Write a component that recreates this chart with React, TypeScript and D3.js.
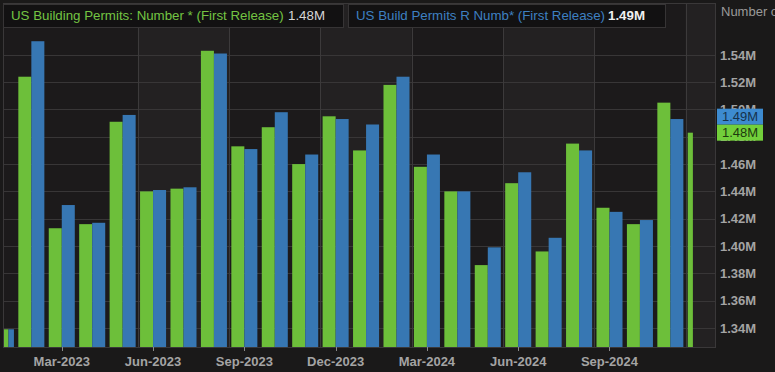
import React, { useRef, useEffect } from 'react';
import * as d3 from 'd3';

// Monthly periods on the x axis
const months = [
  '2023-01', '2023-02', '2023-03', '2023-04', '2023-05', '2023-06',
  '2023-07', '2023-08', '2023-09', '2023-10', '2023-11', '2023-12',
  '2024-01', '2024-02', '2024-03', '2024-04', '2024-05', '2024-06',
  '2024-07', '2024-08', '2024-09', '2024-10', '2024-11', '2024-12',
];

// US Building Permits: Number * (First Release), millions
const permitsFirst = [
  1.339, 1.524, 1.413, 1.416, 1.491, 1.440, 1.442, 1.543, 1.473, 1.487, 1.460, 1.495,
  1.470, 1.518, 1.458, 1.440, 1.386, 1.446, 1.396, 1.475, 1.428, 1.416, 1.505, 1.483,
];

// US Build Permits R Numb* (First Release), millions
const permitsRevised: (number | null)[] = [
  1.339, 1.550, 1.430, 1.417, 1.496, 1.441, 1.443, 1.541, 1.471, 1.498, 1.467, 1.493,
  1.489, 1.524, 1.467, 1.440, 1.399, 1.454, 1.406, 1.470, 1.425, 1.419, 1.493, null,
];

const yTicks = [1.34, 1.36, 1.38, 1.40, 1.42, 1.44, 1.46, 1.48, 1.50, 1.52, 1.54];
const xTickMonths = ['2023-03', '2023-06', '2023-09', '2023-12', '2024-03', '2024-06', '2024-09'];
const quarterStarts = ['2023-06', '2023-09', '2023-12', '2024-03', '2024-06', '2024-09', '2024-12'];
const shadedQuarters = [['2023-06', '2023-09'], ['2023-12', '2024-03'], ['2024-06', '2024-09'], ['2024-12', null]];

const seriesNames = ['US Building Permits: Number * (First Release)', 'US Build Permits R Numb* (First Release)'];

const GREEN = '#6dbf3a';
const BLUE = '#3777b3';
const FONT = '"Liberation Sans", Arial, sans-serif';

const monthLabel = (m: string) => {
  const d = d3.timeParse('%Y-%m')(m)!;
  return d3.timeFormat('%b-%Y')(d);
};

const App: React.FC = () => {
  const svgRef = useRef<SVGSVGElement | null>(null);

  useEffect(() => {
    document.body.style.margin = '0';
    if (!svgRef.current) return;

    const width = 775;
    const height = 372;
    const plot = { left: 3, right: 716, top: 3, bottom: 347 };

    d3.select(svgRef.current).selectAll('*').remove();

    const svg = d3.select(svgRef.current)
      .attr('width', width)
      .attr('height', height)
      .style('display', 'block')
      .style('font-family', FONT);

    svg.append('rect')
      .attr('width', width)
      .attr('height', height)
      .attr('fill', '#1a1919');

    // Scales
    const xScale = d3.scaleBand<string>()
      .domain(months)
      .range([-14.3, plot.right])
      .padding(0);

    const yScale = d3.scaleLinear()
      .domain([1.326, 1.578])
      .range([plot.bottom, plot.top]);

    // Plot background
    svg.append('rect')
      .attr('x', plot.left)
      .attr('y', plot.top)
      .attr('width', plot.right - plot.left)
      .attr('height', plot.bottom - plot.top)
      .attr('fill', '#1c1a1b');

    svg.append('clipPath')
      .attr('id', 'plot-clip')
      .append('rect')
      .attr('x', plot.left)
      .attr('y', plot.top)
      .attr('width', plot.right - plot.left)
      .attr('height', plot.bottom - plot.top);

    const g = svg.append('g').attr('clip-path', 'url(#plot-clip)');

    // Alternating quarter shading
    g.selectAll('.band')
      .data(shadedQuarters)
      .enter()
      .append('rect')
      .attr('x', d => xScale(d[0] as string) || 0)
      .attr('y', plot.top)
      .attr('width', d => (d[1] ? xScale(d[1]) || 0 : plot.right) - (xScale(d[0] as string) || 0))
      .attr('height', plot.bottom - plot.top)
      .attr('fill', '#232122');

    // Grid lines
    g.selectAll('.hgrid')
      .data(yTicks)
      .enter()
      .append('line')
      .attr('x1', plot.left)
      .attr('x2', plot.right)
      .attr('y1', d => Math.round(yScale(d)) + 0.5)
      .attr('y2', d => Math.round(yScale(d)) + 0.5)
      .attr('stroke', '#383637')
      .attr('stroke-width', 1);

    g.selectAll('.vgrid')
      .data(quarterStarts)
      .enter()
      .append('line')
      .attr('x1', d => Math.round(xScale(d) || 0) + 0.5)
      .attr('x2', d => Math.round(xScale(d) || 0) + 0.5)
      .attr('y1', plot.top)
      .attr('y2', plot.bottom)
      .attr('stroke', '#3c3a3b')
      .attr('stroke-width', 1);

    // Bars: each month band is split into two bars, squeezed where the band meets the data window edges
    const innerPad = 2.2;
    const windowEnd = plot.right - 18;
    const groups = months.map((m, i) => {
      const b0 = (xScale(m) || 0) + innerPad;
      const b1 = (xScale(m) || 0) + xScale.bandwidth() - innerPad;
      const x0 = Math.max(b0, plot.left);
      const x1 = Math.min(b1, windowEnd);
      const w = (x1 - x0) / 2;
      return { m, x0, w, first: permitsFirst[i], revised: permitsRevised[i] };
    });

    g.selectAll('.bar-first')
      .data(groups)
      .enter()
      .append('rect')
      .attr('x', d => d.x0)
      .attr('y', d => yScale(d.first))
      .attr('width', d => d.w)
      .attr('height', d => plot.bottom - yScale(d.first))
      .attr('fill', GREEN);

    g.selectAll('.bar-revised')
      .data(groups.filter(d => d.revised != null))
      .enter()
      .append('rect')
      .attr('x', d => d.x0 + d.w)
      .attr('y', d => yScale(d.revised as number))
      .attr('width', d => d.w)
      .attr('height', d => plot.bottom - yScale(d.revised as number))
      .attr('fill', BLUE);

    // Plot frame
    svg.append('rect')
      .attr('x', plot.left + 0.5)
      .attr('y', plot.top + 0.5)
      .attr('width', plot.right - plot.left - 1)
      .attr('height', plot.bottom - plot.top)
      .attr('fill', 'none')
      .attr('stroke', '#3a3839');

    // X axis ticks and labels
    const xTicks = svg.append('g');
    xTickMonths.forEach(m => {
      const cx = (xScale(m) || 0) + xScale.bandwidth() / 2;
      xTicks.append('line')
        .attr('x1', Math.round(cx) + 0.5)
        .attr('x2', Math.round(cx) + 0.5)
        .attr('y1', plot.bottom)
        .attr('y2', plot.bottom + 4)
        .attr('stroke', '#8a8a8a');
      xTicks.append('text')
        .attr('x', cx)
        .attr('y', 366)
        .attr('text-anchor', 'middle')
        .attr('fill', '#a4a4a4')
        .attr('font-size', '13px')
        .attr('font-weight', 'bold')
        .text(monthLabel(m));
    });

    // Right Y axis labels
    svg.append('g')
      .selectAll('text')
      .data(yTicks)
      .enter()
      .append('text')
      .attr('x', 720)
      .attr('y', d => yScale(d))
      .attr('dy', '0.36em')
      .attr('fill', '#a4a4a4')
      .attr('font-size', '13px')
      .attr('font-weight', 'bold')
      .text(d => `${d.toFixed(2)}M`);

    svg.append('text')
      .attr('x', 721)
      .attr('y', 16)
      .attr('fill', '#9a9a9a')
      .attr('font-size', '13px')
      .text('Number of');

    // Last value labels on the axis
    const lastFirst = permitsFirst[permitsFirst.length - 1];
    const lastRevised = permitsRevised.filter(v => v != null).slice(-1)[0] as number;
    const boxH = 16;
    const greenCy = yScale(lastFirst);
    const blueCy = Math.min(yScale(lastRevised), greenCy - boxH);
    const valueLabels = [
      { v: lastRevised, cy: blueCy, fill: '#3d8bd0', text: '#16324c' },
      { v: lastFirst, cy: greenCy, fill: '#72cf3b', text: '#1d3a0e' },
    ];
    valueLabels.forEach(l => {
      svg.append('rect')
        .attr('x', 717)
        .attr('y', l.cy - boxH / 2)
        .attr('width', 46)
        .attr('height', boxH)
        .attr('fill', l.fill);
      svg.append('text')
        .attr('x', 722)
        .attr('y', l.cy)
        .attr('dy', '0.36em')
        .attr('fill', l.text)
        .attr('font-size', '13px')
        .text(`${l.v.toFixed(2)}M`);
    });

    // Legend boxes
    const legendItems = [
      { name: seriesNames[0], value: lastFirst, color: '#74c443', x: 3, w: 340, valueX: 288, bold: false },
      { name: seriesNames[1], value: lastRevised, color: '#3e80c2', x: 348, w: 317, valueX: 608, bold: true },
    ];
    legendItems.forEach(item => {
      svg.append('rect')
        .attr('x', item.x + 0.5)
        .attr('y', 4.5)
        .attr('width', item.w)
        .attr('height', 23)
        .attr('fill', '#121112')
        .attr('stroke', '#363435');
      svg.append('text')
        .attr('x', item.x + 8)
        .attr('y', 20)
        .attr('fill', item.color)
        .attr('font-size', '13.3px')
        .text(item.name);
      svg.append('text')
        .attr('x', item.valueX)
        .attr('y', 20)
        .attr('fill', item.bold ? '#f0f0f0' : '#d6d6d6')
        .attr('font-size', '13.3px')
        .attr('font-weight', item.bold ? 'bold' : 'normal')
        .text(`${item.value.toFixed(2)}M`);
    });
  }, []);

  return <svg ref={svgRef} />;
};

export default App;
